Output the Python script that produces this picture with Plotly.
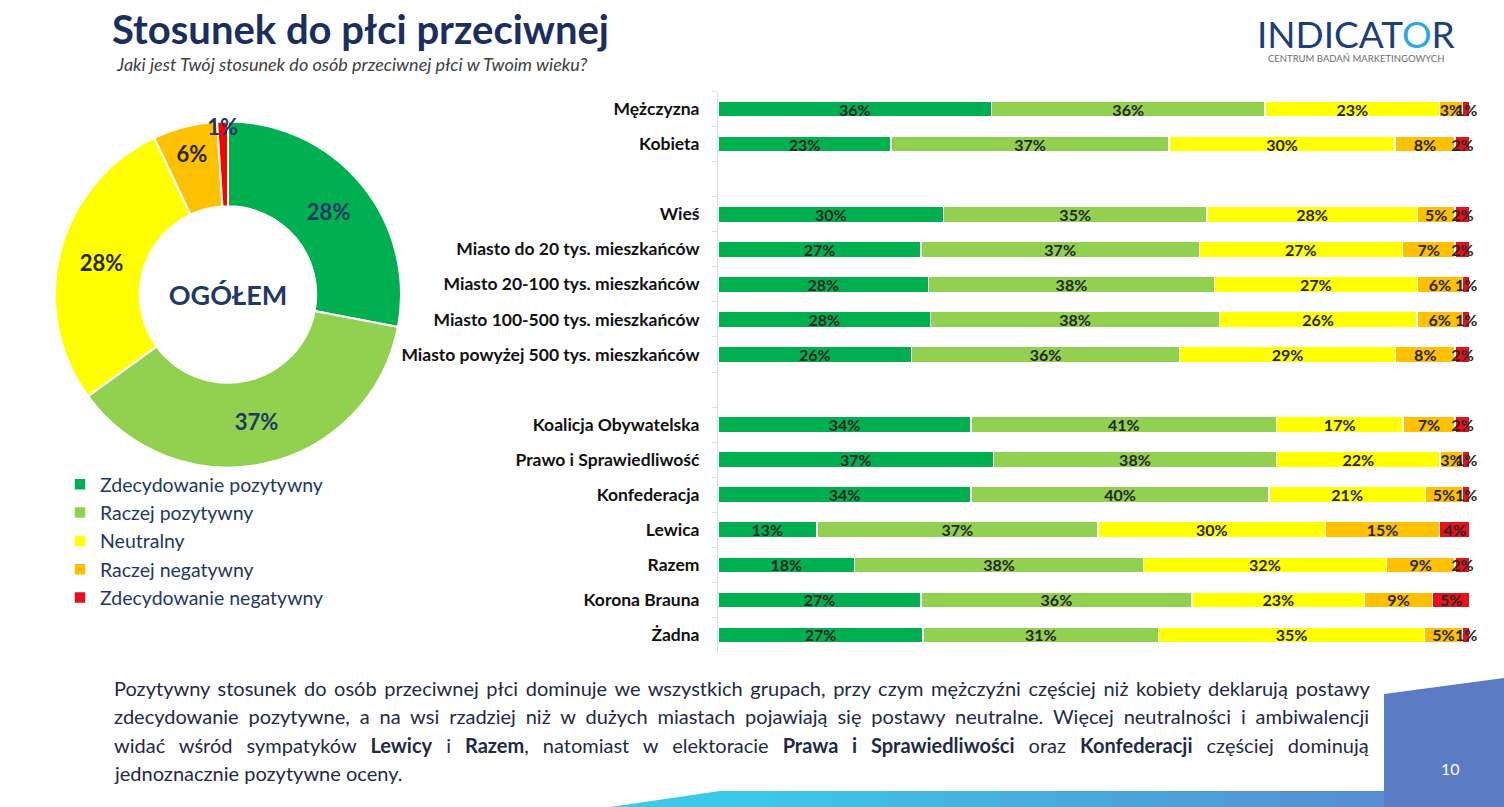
import plotly.graph_objects as go

W, H = 1504, 807

def px(x):
    return x / W

def py(y):
    return 1 - y / H

# ---------------- DATA ----------------
series_names = ["Zdecydowanie pozytywny", "Raczej pozytywny", "Neutralny",
                "Raczej negatywny", "Zdecydowanie negatywny"]
bar_colors = ["#00B050", "#92D050", "#FFFF00", "#FFC000", "#E8101A"]
pie_colors = ["#00B050", "#92D050", "#FFFF00", "#FFC000", "#FF0000"]

overall = [28, 37, 28, 6, 1]

categories = ["Mężczyzna", "Kobieta", " ",
              "Wieś", "Miasto do 20 tys. mieszkańców", "Miasto 20-100 tys. mieszkańców",
              "Miasto 100-500 tys. mieszkańców", "Miasto powyżej 500 tys. mieszkańców", "  ",
              "Koalicja Obywatelska", "Prawo i Sprawiedliwość", "Konfederacja", "Lewica",
              "Razem", "Korona Brauna", "Żadna"]

zdecydowanie_pozytywny = [36, 23, None, 30, 27, 28, 28, 26, None, 34, 37, 34, 13, 18, 27, 27]
raczej_pozytywny       = [36, 37, None, 35, 37, 38, 38, 36, None, 41, 38, 40, 37, 38, 36, 31]
neutralny              = [23, 30, None, 28, 27, 27, 26, 29, None, 17, 22, 21, 30, 32, 23, 35]
raczej_negatywny       = [3, 8, None, 5, 7, 6, 6, 8, None, 7, 3, 5, 15, 9, 9, 5]
zdecydowanie_negatywny = [1, 2, None, 2, 2, 1, 1, 2, None, 2, 1, 1, 4, 2, 5, 1]

series_values = [zdecydowanie_pozytywny, raczej_pozytywny, neutralny,
                 raczej_negatywny, zdecydowanie_negatywny]

paragraph_lines = [
    "Pozytywny stosunek do osób przeciwnej płci dominuje we wszystkich grupach, przy czym mężczyźni częściej niż kobiety deklarują postawy",
    "zdecydowanie pozytywne, a na wsi rzadziej niż w dużych miastach pojawiają się postawy neutralne. Więcej neutralności i ambiwalencji",
    "widać wśród sympatyków <b>Lewicy</b> i <b>Razem</b>, natomiast w elektoracie <b>Prawa i Sprawiedliwości</b> oraz <b>Konfederacji</b> częściej dominują",
    "jednoznacznie pozytywne oceny.",
]
# extra word spacing (px) used to imitate the justified paragraph
paragraph_word_spacing = [2.5, 4.8, 8.9, 0]

FONT = "Lato"
NAVY = "#1F3864"

fig = go.Figure()

# ---------------- BARS ----------------
for name, vals, col in zip(series_names, series_values, bar_colors):
    fig.add_trace(go.Bar(
        y=categories, x=vals, name=name, orientation="h",
        marker=dict(color=col, line=dict(color="white", width=1.5)),
        text=[("%d%%" % v) if v is not None else "" for v in vals],
        textposition="inside", insidetextanchor="middle", constraintext="none",
        textangle=0, cliponaxis=False,
        textfont=dict(family=FONT, size=16, color="#262626", weight="bold"),
        legendgroup=name, hoverinfo="skip",
    ))

# ---------------- DONUT ----------------
fig.add_trace(go.Pie(
    values=overall, labels=series_names, sort=False, direction="clockwise",
    rotation=0, hole=0.51,
    marker=dict(colors=pie_colors, line=dict(color="white", width=2)),
    texttemplate="%{value}%", textposition="inside", insidetextorientation="horizontal",
    textfont=dict(family=FONT, size=22, weight="bold",
                  color=[NAVY, NAVY, "#262626", "#262626", NAVY]),
    domain=dict(x=[px(55), px(401)], y=[py(468), py(121)]),
    title=dict(text="<b>OGÓŁEM</b>", position="middle center",
               font=dict(family=FONT, size=27, color=NAVY)),
    showlegend=False, hoverinfo="skip",
))

# ---------------- SHAPES (decor) ----------------
shapes = []
c0 = (0x3C, 0xC8, 0xE8)
c1 = (0x5A, 0x84, 0xCE)
steps = 14
xs = [720 + (1504 - 720) * i / steps for i in range(steps + 1)]
shapes.append(dict(type="path", xref="paper", yref="paper",
                   path="M %f,%f L %f,%f L %f,%f L %f,%f Z" % (px(610), py(807), px(720), py(791), px(721), py(791), px(721), py(807)),
                   fillcolor="#3CC8E8", line=dict(width=0), layer="above"))
for i in range(steps):
    t = i / (steps - 1)
    col = "rgb(%d,%d,%d)" % tuple(int(c0[k] + (c1[k] - c0[k]) * t) for k in range(3))
    shapes.append(dict(type="rect", xref="paper", yref="paper",
                       x0=px(xs[i] - 0.5), x1=px(xs[i + 1] + 0.5), y0=py(807), y1=py(791),
                       fillcolor=col, line=dict(width=0), layer="above"))
shapes.append(dict(type="path", xref="paper", yref="paper",
                   path="M %f,%f L %f,%f L %f,%f L %f,%f Z" % (px(1384), py(694), px(1504), py(678), px(1504), py(807), px(1384), py(807)),
                   fillcolor="#5B7CC5", line=dict(width=0), layer="above"))

# ---------------- ANNOTATIONS ----------------
ann = []
ann.append(dict(text="<b>Stosunek do płci przeciwnej</b>", x=px(110), y=py(29), xref="paper", yref="paper",
                xanchor="left", yanchor="middle", showarrow=False,
                font=dict(family=FONT, size=40, color="#1A2F5E")))
ann.append(dict(text="<i>Jaki jest Twój stosunek do osób przeciwnej płci w Twoim wieku?</i>", x=px(114), y=py(64),
                xref="paper", yref="paper", xanchor="left", yanchor="middle", showarrow=False,
                font=dict(family=FONT, size=18, color="#404040")))
ann.append(dict(text="INDICAT<span style='color:#2AA8E0'>O</span>R", x=px(1356), y=py(34),
                xref="paper", yref="paper", xanchor="center", yanchor="middle", showarrow=False,
                font=dict(family=FONT, size=37, color="#1B3F7A")))
ann.append(dict(text="CENTRUM BADAŃ MARKETINGOWYCH", x=px(1356), y=py(58),
                xref="paper", yref="paper", xanchor="center", yanchor="middle", showarrow=False,
                font=dict(family=FONT, size=9.5, color="#6E6E6E")))
for i, (line, ws) in enumerate(zip(paragraph_lines, paragraph_word_spacing)):
    txt = "<span style='word-spacing:%.1fpx'>%s</span>" % (ws, line) if ws else line
    ann.append(dict(text=txt, x=px(112), y=py(688 + 28.3 * i), xref="paper", yref="paper",
                    xanchor="left", yanchor="middle", showarrow=False,
                    font=dict(family=FONT, size=20, color="#1F2A44")))
ann.append(dict(text="10", x=px(1450), y=py(768), xref="paper", yref="paper",
                xanchor="center", yanchor="middle", showarrow=False,
                font=dict(family=FONT, size=16, color="white")))

fig.update_layout(
    width=W, height=H,
    margin=dict(l=0, r=0, t=0, b=0),
    paper_bgcolor="white", plot_bgcolor="white",
    barmode="stack", barnorm="percent", bargap=0.54,
    uniformtext=dict(minsize=15, mode="show"),
    xaxis=dict(domain=[px(718), px(1471.5)], range=[0, 100.2], visible=False, fixedrange=True),
    yaxis=dict(domain=[py(652.5), py(91.5)], autorange="reversed", type="category",
               categoryorder="array", categoryarray=categories,
               showline=True, linecolor="#D9DEE8", linewidth=1,
               ticks="outside", tickson="boundaries", ticklen=5, tickcolor="#D9DEE8",
               ticklabelstandoff=14,
               tickfont=dict(family=FONT, size=17.5, color="#111111", weight="bold"),
               showgrid=False, zeroline=False, fixedrange=True),
    legend=dict(x=px(60), y=py(465), xanchor="left", yanchor="top",
                traceorder="grouped", tracegroupgap=0, itemwidth=30,
                font=dict(family=FONT, size=19.5, color=NAVY), bgcolor="rgba(0,0,0,0)"),
    shapes=shapes,
    annotations=ann,
)

fig.write_html("out.html", config={"displayModeBar": False},
               post_script="document.body.style.margin='0px';document.body.style.overflow='hidden';")
